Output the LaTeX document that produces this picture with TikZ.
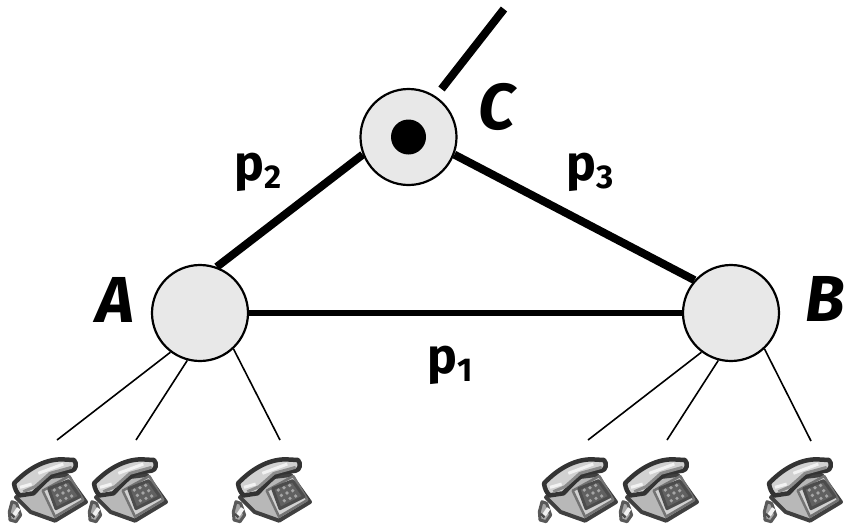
\documentclass[tikz,border=0pt]{standalone}
\usepackage{fontspec}
\setmainfont{Fira Sans}
\tikzset{
  router/.style={circle,draw=black,line width=2.2pt,fill=black!9,minimum size=96pt,inner sep=0pt},
  thick link/.style={line width=8pt,black},
  mid link/.style={line width=5.5pt,black},
  access/.style={line width=1.6pt,black},
  plabel/.style={font=\fontsize{50}{50}\selectfont\bfseries,inner sep=0pt},
  rlabel/.style={font=\fontsize{65}{65}\selectfont\bfseries\itshape,inner sep=0pt},
  phone/.pic={
    \begin{scope}[scale=1/3,line join=round]
      % body
      \fill[black!28,draw=black!75,line width=4pt] (48,172) -- (140,112) -- (200,105) -- (258,186) -- (165,242) -- (92,216) -- cycle;
      % base face
      \fill[black!18,draw=black!55,line width=2.5pt] (128,152) -- (208,108) -- (250,180) -- (165,230) -- cycle;
      % keypad
      \fill[black!62,draw=black!70,line width=3pt] (146,146) -- (206,122) -- (240,170) -- (168,206) -- cycle;
      \foreach \a/\b in {163/150,180/143,197/136,172/166,189/159,206/152,181/182,198/175,215/168}
        \fill[black!35] (\a,\b) circle (5.5);
      % handset
      \fill[black!18,draw=black!80,line width=4.5pt] (42,130) .. controls (80,90) and (130,58) .. (185,58) -- (222,60) .. controls (232,70) and (228,90) .. (215,92) -- (170,98) .. controls (140,115) and (120,140) .. (100,160) -- (60,166) .. controls (50,160) and (44,145) .. (42,130) -- cycle;
      \draw[black!5,line width=3pt] (60,142) -- (95,132);
      \draw[black!5,line width=3pt] (115,100) -- (190,72);
      \draw[black!45,line width=3pt] (70,155) -- (105,140) -- (150,100) -- (215,82);
      % cord
      \fill[black!35,draw=black!65,line width=3pt] (36,185) -- (50,190) -- (62,225) -- (48,245) -- (30,240) -- (28,215) -- cycle;
      \draw[black!5,line width=4pt] (38,232) -- (56,205);
      \draw[black!70,line width=2.5pt] (32,222) -- (44,232);
    \end{scope}
  }
}
\begin{document}
\begin{tikzpicture}[x=1pt,y=-1pt]
\useasboundingbox (0,0) rectangle (846,523);
% phones
\foreach \ox in {0,80,224,530,611,755}
  \pic at (\ox,440) {phone};
% routers
\node[router] (A) at (200,313) {};
\node[router] (B) at (731,313) {};
\node[router] (C) at (408.5,137) {};
\node[circle,fill=black,minimum size=35pt,inner sep=0pt] (Cdot) at (408.5,137) {};
% free ends
\coordinate (Ctop0) at (441.5,89);
\coordinate (Ctop1) at (504,9);
\coordinate (a1) at (57,440);
\coordinate (a2) at (136,440);
\coordinate (a3) at (280,440);
\coordinate (b1) at (588,440);
\coordinate (b2) at (667,440);
\coordinate (b3) at (811,441);
% links
\draw[thick link] (Ctop0) -- (Ctop1);
\draw[thick link] (A.70) -- (C.201);
\draw[thick link] (C.-21) -- (B.138);
\draw[mid link] (A.east) -- (B.west);
\draw[access] (A.233) -- (a1);
\draw[access] (A.255) -- (a2);
\draw[access] (A.-47) -- (a3);
\draw[access] (B.233) -- (b1);
\draw[access] (B.255) -- (b2);
\draw[access] (B.-47) -- (b3);
% labels
\newcommand{\plab}[1]{p\raisebox{-8pt}{\fontsize{33}{33}\selectfont #1}}
\node[plabel] (p2) at (258,172) {\plab{2}};
\node[plabel] (p3) at (590,172) {\plab{3}};
\node[plabel] (p1) at (450,365) {\plab{1}};
\node[rlabel] (la) at (115,300) {A};
\node[rlabel,anchor=east] (lb) at (845.5,299) {B};
\node[rlabel] (lc) at (496.5,107) {C};
\end{tikzpicture}
\end{document}
